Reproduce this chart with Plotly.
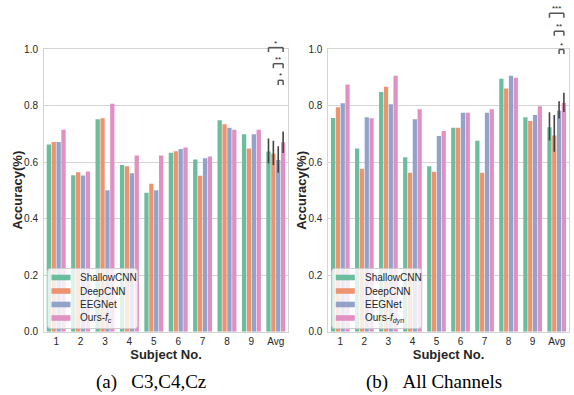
import plotly.graph_objects as go

# ---------------- data ----------------
subjects = ["1", "2", "3", "4", "5", "6", "7", "8", "9", "Avg"]
methods = ["ShallowCNN", "DeepCNN", "EEGNet", "Ours"]

# (a) C3,C4,Cz
a_shallow = [0.663, 0.554, 0.752, 0.590, 0.492, 0.634, 0.610, 0.749, 0.699, 0.638]
a_deep    = [0.672, 0.565, 0.756, 0.586, 0.524, 0.639, 0.552, 0.735, 0.649, 0.630]
a_eegnet  = [0.672, 0.553, 0.501, 0.561, 0.501, 0.647, 0.614, 0.722, 0.699, 0.608]
a_ours    = [0.715, 0.567, 0.807, 0.624, 0.624, 0.652, 0.620, 0.715, 0.715, 0.671]
a_avg_low  = [0.596, 0.590, 0.563, 0.633]
a_avg_high = [0.684, 0.676, 0.657, 0.709]

# (b) All Channels
b_shallow = [0.757, 0.649, 0.849, 0.618, 0.586, 0.722, 0.676, 0.896, 0.759, 0.724]
b_deep    = [0.795, 0.577, 0.867, 0.563, 0.566, 0.722, 0.563, 0.861, 0.746, 0.695]
b_eegnet  = [0.809, 0.759, 0.805, 0.752, 0.693, 0.775, 0.775, 0.906, 0.767, 0.782]
b_ours    = [0.875, 0.756, 0.906, 0.788, 0.711, 0.775, 0.788, 0.899, 0.798, 0.810]
b_avg_low  = [0.677, 0.637, 0.755, 0.778]
b_avg_high = [0.777, 0.767, 0.816, 0.846]

legend_a = ["ShallowCNN", "DeepCNN", "EEGNet", "Ours-<i>f</i><sub>c</sub>"]
legend_b = ["ShallowCNN", "DeepCNN", "EEGNet", "Ours-<i>f</i><sub><i>dyn</i></sub>"]

# significance brackets: (method index compared with Ours, height, label)
sig_a = [(0, 1.006, "*"), (1, 0.949, "**"), (2, 0.890, "*")]
sig_b = [(0, 1.128, "***"), (1, 1.064, "**"), (2, 0.999, "*")]

y_title = "Accuracy(%)"
x_title = "Subject No."
captions = ["(a)\u00a0\u00a0\u00a0C3,C4,Cz", "(b)\u00a0\u00a0\u00a0All Channels"]

# ---------------- style ----------------
W, H = 574, 395
colors = ["#6cbc9e", "#ec9470", "#93a2c8", "#e090c2"]
grid_c = "#d4d4d4"
txt_c = "#262626"
FONT = "Liberation Sans"

def px_x(p):
    return p / W

def px_y(p):
    return 1 - p / H

xdom_a = [px_x(44), px_x(288)]
xdom_b = [px_x(328.3), px_x(568.7)]
ydom = [px_y(331.7), px_y(49.3)]

def v2paper(v):
    return ydom[0] + v * (ydom[1] - ydom[0])

fig = go.Figure()
xpos = list(range(len(subjects)))
n = len(subjects)

panels = [
    ("x", "y", [a_shallow, a_deep, a_eegnet, a_ours], a_avg_low, a_avg_high),
    ("x2", "y2", [b_shallow, b_deep, b_eegnet, b_ours], b_avg_low, b_avg_high),
]
for xa, ya, series, lows, highs in panels:
    for i, (vals, c) in enumerate(zip(series, colors)):
        plus = [None] * (n - 1) + [highs[i] - vals[-1]]
        minus = [None] * (n - 1) + [vals[-1] - lows[i]]
        fig.add_trace(go.Bar(
            x=xpos, y=vals, name=methods[i], xaxis=xa, yaxis=ya,
            marker=dict(color=c, line=dict(width=0)),
            error_y=dict(type="data", symmetric=False, array=plus, arrayminus=minus,
                         width=0, thickness=1.6, color="#424242"),
            showlegend=False,
        ))

axis_common = dict(
    showline=True, mirror=True, linecolor=grid_c, linewidth=1,
    ticks="", tickfont=dict(family=FONT, size=10, color=txt_c),
    zeroline=False, automargin=False,
)
title_font = dict(family=FONT, size=13, color=txt_c, weight="bold")

layout_axes = {}
for k, (xa, ya, dom) in enumerate([("xaxis", "yaxis", xdom_a), ("xaxis2", "yaxis2", xdom_b)]):
    anchor_x = "y" if k == 0 else "y2"
    anchor_y = "x" if k == 0 else "x2"
    layout_axes[xa] = dict(axis_common, domain=dom, anchor=anchor_x, range=[-0.5, 9.5],
                           tickvals=xpos, ticktext=subjects, showgrid=False,
                           ticklabelstandoff=0,
                           title=dict(text=x_title, font=title_font, standoff=0))
    layout_axes[ya] = dict(axis_common, domain=ydom, anchor=anchor_y, range=[0, 1.0],
                           tickvals=[0, 0.2, 0.4, 0.6, 0.8, 1.0], tickformat=".1f",
                           showgrid=True, gridcolor=grid_c, gridwidth=1,
                           ticklabelstandoff=3)

fig.update_layout(
    width=W, height=H, autosize=False,
    margin=dict(l=0, r=0, t=0, b=0, autoexpand=False),
    paper_bgcolor="white", plot_bgcolor="white",
    barmode="group", bargap=0.2, bargroupgap=0.12,
    showlegend=False,
    **layout_axes,
)

shapes = []
annots = []

# y-axis titles (placed close to tick labels, as in the reference)
for left_px in [44, 328.3]:
    annots.append(dict(x=px_x(left_px - 27), y=(ydom[0] + ydom[1]) / 2, xref="paper", yref="paper",
                       text=y_title, textangle=-90, showarrow=False,
                       xanchor="center", yanchor="middle", font=title_font))

# significance brackets (bar centres from the grouped-bar geometry)
offsets = [-0.3, -0.1, 0.1, 0.3]
leg = 0.016
for xa, sigs in [("x", sig_a), ("x2", sig_b)]:
    avg_i = n - 1
    x_ours = avg_i + offsets[3]
    for mi, hgt, lab in sigs:
        x_m = avg_i + offsets[mi]
        ytop = v2paper(hgt)
        ybot = v2paper(hgt - leg)
        for (x0, y0, x1, y1) in [(x_m, ybot, x_m, ytop), (x_m, ytop, x_ours, ytop), (x_ours, ytop, x_ours, ybot)]:
            shapes.append(dict(type="line", xref=xa, yref="paper", x0=x0, y0=y0, x1=x1, y1=y1,
                               line=dict(color="#555555", width=1.5)))
        annots.append(dict(x=(x_m + x_ours) / 2, y=ytop, xref=xa, yref="paper",
                           text=lab, showarrow=False, yanchor="bottom", yshift=-2,
                           font=dict(family=FONT, size=8, color=txt_c)))

# legends (matplotlib-style boxes)
def rounded_rect(x0, y0, x1, y1, r):
    pts = (f"M {px_x(x0 + r)},{px_y(y0)} L {px_x(x1 - r)},{px_y(y0)} "
           f"Q {px_x(x1)},{px_y(y0)} {px_x(x1)},{px_y(y0 + r)} "
           f"L {px_x(x1)},{px_y(y1 - r)} Q {px_x(x1)},{px_y(y1)} {px_x(x1 - r)},{px_y(y1)} "
           f"L {px_x(x0 + r)},{px_y(y1)} Q {px_x(x0)},{px_y(y1)} {px_x(x0)},{px_y(y1 - r)} "
           f"L {px_x(x0)},{px_y(y0 + r)} Q {px_x(x0)},{px_y(y0)} {px_x(x0 + r)},{px_y(y0)} Z")
    return pts

item_y = [277.5, 291, 304.5, 318]
for left_px, labels in [(44, legend_a), (328.3, legend_b)]:
    bx0 = left_px + 3.5
    bx1 = bx0 + 90
    shapes.append(dict(type="path", xref="paper", yref="paper",
                       path=rounded_rect(bx0, 268.5, bx1, 328.5, 3),
                       fillcolor="rgba(255,255,255,0.8)", line=dict(color="#cccccc", width=1)))
    for yy, lab, c in zip(item_y, labels, colors):
        shapes.append(dict(type="rect", xref="paper", yref="paper",
                           x0=px_x(bx0 + 4), x1=px_x(bx0 + 23),
                           y0=px_y(yy + 2.8), y1=px_y(yy - 2.8),
                           fillcolor=c, line=dict(width=0)))
        annots.append(dict(x=px_x(bx0 + 31), y=px_y(yy), xref="paper", yref="paper",
                           text=lab, showarrow=False, xanchor="left", yanchor="middle",
                           font=dict(family=FONT, size=10, color=txt_c)))

# captions
for cx, cap in zip([151, 434], captions):
    annots.append(dict(x=px_x(cx), y=px_y(382), xref="paper", yref="paper",
                       text=cap, showarrow=False, xanchor="center", yanchor="middle",
                       font=dict(family="Liberation Serif", size=19, color="black")))

fig.update_layout(shapes=shapes, annotations=annots)
fig.write_html("out.html", config={"displayModeBar": False},
               post_script="document.body.style.margin='0';document.body.style.overflow='hidden';")
